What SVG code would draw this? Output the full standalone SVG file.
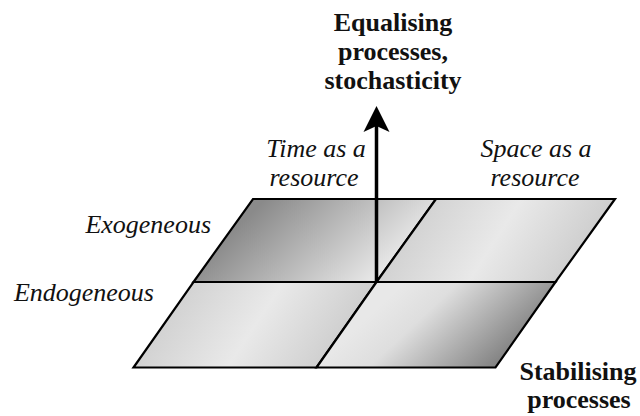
<svg xmlns="http://www.w3.org/2000/svg" width="640" height="416" viewBox="0 0 640 416">
<style>
.cell{stroke:#000;stroke-width:2.2;stroke-linejoin:miter}
.it{font-family:'Liberation Serif','Times New Roman',Times,'DejaVu Serif',serif;font-style:italic;font-size:26px;fill:#111}
.bd{font-family:'Liberation Serif','Times New Roman',Times,'DejaVu Serif',serif;font-weight:bold;font-size:26px;fill:#111;text-anchor:middle}
</style>
<defs>
<linearGradient id="gTL" gradientUnits="userSpaceOnUse" x1="270" y1="195" x2="360" y2="290">
<stop offset="0" stop-color="#8a8a8a"/><stop offset="1" stop-color="#e6e6e6"/>
</linearGradient>
<linearGradient id="gTR" gradientUnits="userSpaceOnUse" x1="430" y1="199" x2="560" y2="282">
<stop offset="0" stop-color="#d2d2d2"/><stop offset="0.5" stop-color="#e9e9e9"/><stop offset="1" stop-color="#cfcfcf"/>
</linearGradient>
<linearGradient id="gBL" gradientUnits="userSpaceOnUse" x1="190" y1="282" x2="320" y2="368">
<stop offset="0" stop-color="#d2d2d2"/><stop offset="0.5" stop-color="#e9e9e9"/><stop offset="1" stop-color="#cfcfcf"/>
</linearGradient>
<linearGradient id="gBR" gradientUnits="userSpaceOnUse" x1="405" y1="282" x2="490" y2="372">
<stop offset="0" stop-color="#e8e8e8"/><stop offset="0.3" stop-color="#dedede"/><stop offset="1" stop-color="#828282"/>
</linearGradient>
</defs>
<g id="cell-top-left"><polygon class="cell" points="253,199 436,199 376.5,282 193.5,282" fill="url(#gTL)"/></g>
<g id="cell-top-right"><polygon class="cell" points="436,199 615,199 555.5,282 376.5,282" fill="url(#gTR)"/></g>
<g id="cell-bottom-left"><polygon class="cell" points="193.5,282 376.5,282 316.5,367.5 133.5,367.5" fill="url(#gBL)"/></g>
<g id="cell-bottom-right"><polygon class="cell" points="376.5,282 555.5,282 495.5,367.5 316.5,367.5" fill="url(#gBR)"/></g>
<g id="connectors">
<line x1="376.5" y1="283" x2="376.5" y2="112" stroke="#000" stroke-width="3.5"/>
<path d="M376.5,106 L389.5,132 L376.5,126 L363.5,132 Z" fill="#000"/>
</g>
<g id="label-equalising">
<text class="bd" x="393" y="31" font-family="Liberation Serif, serif">Equalising</text>
<text class="bd" x="393" y="60" font-family="Liberation Serif, serif">processes,</text>
<text class="bd" x="393" y="89" font-family="Liberation Serif, serif">stochasticity</text>
</g>
<g id="label-time">
<text class="it" x="316" y="157" text-anchor="middle">Time as a</text>
<text class="it" x="314" y="186" text-anchor="middle">resource</text>
</g>
<g id="label-space">
<text class="it" x="536" y="157" text-anchor="middle">Space as a</text>
<text class="it" x="535" y="186" text-anchor="middle">resource</text>
</g>
<g id="label-exo"><text class="it" x="211" y="233" text-anchor="end">Exogeneous</text></g>
<g id="label-endo"><text class="it" x="154" y="301" text-anchor="end">Endogeneous</text></g>
<g id="label-stabilising">
<text class="bd" x="578" y="380">Stabilising</text>
<text class="bd" x="579" y="408">processes</text>
</g>
</svg>
